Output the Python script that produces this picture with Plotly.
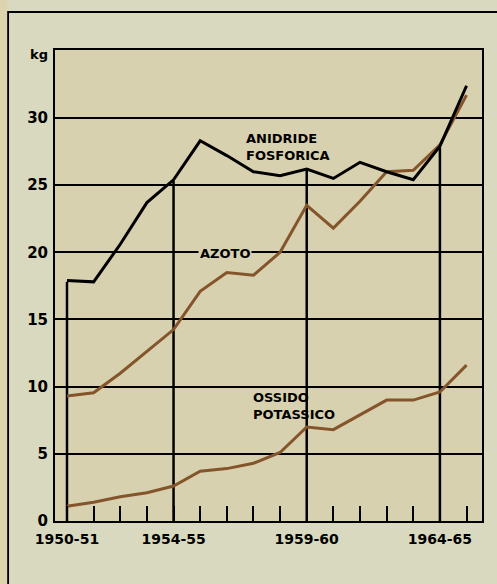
import plotly.graph_objects as go

# campagne 1950-51 ... 1965-66 (x = primo anno)
anni = list(range(1950, 1966))
anidride_fosforica = [17.9, 17.8, 20.6, 23.7, 25.4, 28.3, 27.2, 26.0, 25.7, 26.2, 25.5, 26.7, 26.0, 25.4, 27.9, 32.4]
azoto = [9.3, 9.55, 11.0, 12.6, 14.25, 17.1, 18.5, 18.3, 20.0, 23.5, 21.8, 23.8, 26.0, 26.1, 28.0, 31.7]
ossido_potassico = [1.1, 1.4, 1.8, 2.1, 2.6, 3.7, 3.9, 4.3, 5.1, 7.0, 6.8, 7.9, 9.0, 9.0, 9.6, 11.6]

anni_etichetta = [1950, 1954, 1959, 1964]
etichette = ["1950-51", "1954-55", "1959-60", "1964-65"]
ytick = [0, 5, 10, 15, 20, 25, 30]

FONT = "DejaVu Sans"
BROWN = "#84552a"
PLOT_BG = "#d8d1af"

fig = go.Figure()

# linee verticali di riferimento fino alla curva dell'anidride fosforica
for a in anni_etichetta:
    fig.add_shape(type="line", x0=a, x1=a, y0=-0.35, y1=anidride_fosforica[anni.index(a)] - 0.1,
                  line=dict(color="black", width=2.5), layer="below")

fig.add_trace(go.Scatter(x=anni, y=ossido_potassico, mode="lines",
                         line=dict(color=BROWN, width=3), showlegend=False))
fig.add_trace(go.Scatter(x=anni, y=azoto, mode="lines",
                         line=dict(color=BROWN, width=3), showlegend=False))
fig.add_trace(go.Scatter(x=anni, y=anidride_fosforica, mode="lines",
                         line=dict(color="black", width=3), showlegend=False))

# etichette delle serie
lab = dict(font=dict(family=FONT, size=13, color="black"), showarrow=False,
           xanchor="left", align="left", yanchor="middle")
fig.add_annotation(x=1956.66, y=27.85, text="<b>ANIDRIDE<br>FOSFORICA</b>", **lab)
fig.add_annotation(x=1954.93, y=19.9, text="<b>AZOTO</b>", bgcolor=PLOT_BG, borderpad=1, **lab)
fig.add_annotation(x=1956.9, y=8.55, text="<b>OSSIDO<br>POTASSICO</b>", **lab)

fig.add_annotation(x=-0.012, y=0.99, xref="paper", yref="paper", text="<b>kg</b>",
                   showarrow=False, xanchor="right", yanchor="middle",
                   font=dict(family=FONT, size=13, color="black"))

# cornice esterna
fig.add_shape(type="rect", xref="paper", yref="paper", x0=-0.11, x1=1.2, y0=-0.3, y1=1.0807,
              line=dict(color="black", width=2), layer="below")
fig.add_shape(type="rect", xref="paper", yref="paper", x0=-0.2, x1=-0.112, y0=-0.3, y1=1.2,
              fillcolor="#ddd3ae", line=dict(width=0), layer="below")

fig.update_xaxes(range=[1949.55, 1965.58], tickmode="array", tickvals=anni,
                 ticktext=[etichette[anni_etichetta.index(a)] if a in anni_etichetta else "" for a in anni],
                 ticks="inside", ticklen=15, tickwidth=2, tickcolor="black", ticklabelstandoff=4,
                 showgrid=False, zeroline=False, showline=True, linecolor="black",
                 linewidth=2, mirror=True,
                 tickfont=dict(family=FONT, size=14, color="black", weight="bold"))
fig.update_yaxes(range=[0, 35.06], tickmode="array", tickvals=ytick,
                 ticks="", showgrid=True, gridcolor="black", gridwidth=1.5, ticklabelstandoff=2,
                 zeroline=False, showline=True, linecolor="black", linewidth=2, mirror=True,
                 tickfont=dict(family=FONT, size=15, color="black", weight="bold"))

fig.update_layout(width=497, height=584, margin=dict(l=55, r=15, t=50, b=63),
                  paper_bgcolor="#d8d9be", plot_bgcolor=PLOT_BG, showlegend=False)

fig.write_html("out.html", config={"displayModeBar": False},
               post_script="document.body.style.margin='0';")
